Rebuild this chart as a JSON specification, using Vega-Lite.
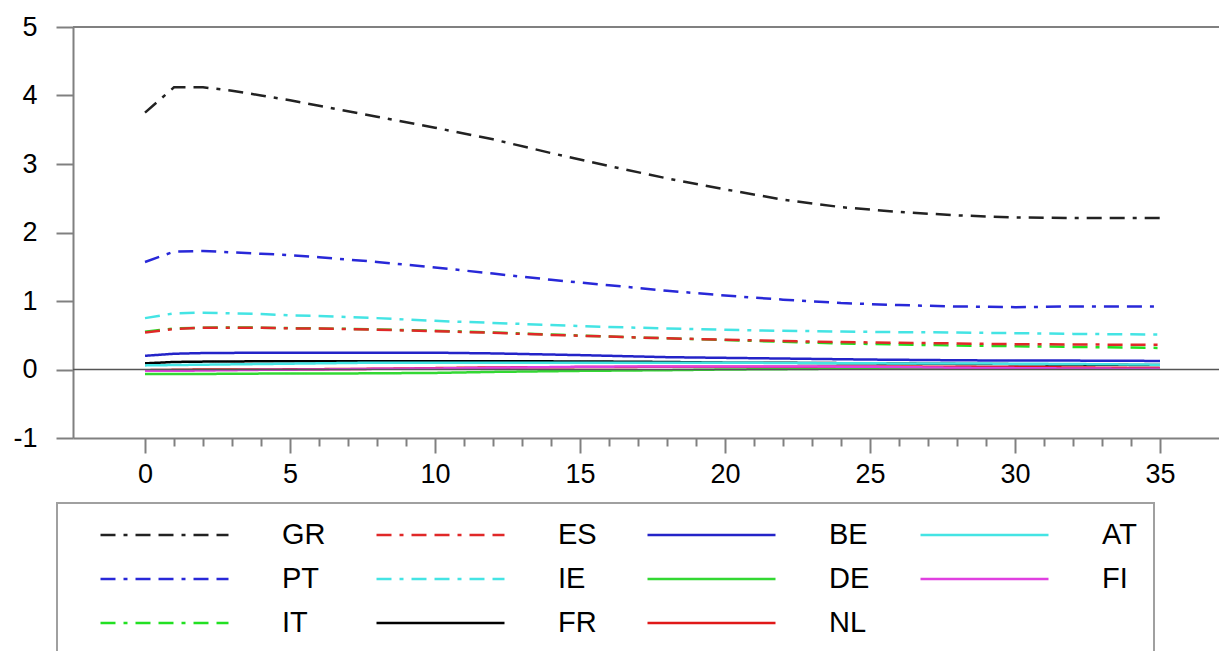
{
  "$schema": "https://vega.github.io/schema/vega-lite/v6.json",
  "width": 1146,
  "height": 411,
  "autosize": {"type": "none"},
  "padding": {"left": 73, "top": 27, "right": 0, "bottom": 213},
  "background": "white",
  "config": {"view": {"stroke": null}, "font": "Liberation Sans"},
  "data": {"values": [
    {"t":0,"c":"GR","v":3.75},{"t":1,"c":"GR","v":4.12},{"t":2,"c":"GR","v":4.12},{"t":3,"c":"GR","v":4.07},{"t":4,"c":"GR","v":4.00},{"t":5,"c":"GR","v":3.93},{"t":6,"c":"GR","v":3.85},{"t":8,"c":"GR","v":3.69},{"t":10,"c":"GR","v":3.53},{"t":12,"c":"GR","v":3.36},{"t":14,"c":"GR","v":3.16},{"t":16,"c":"GR","v":2.97},{"t":18,"c":"GR","v":2.79},{"t":20,"c":"GR","v":2.63},{"t":22,"c":"GR","v":2.48},{"t":24,"c":"GR","v":2.37},{"t":26,"c":"GR","v":2.30},{"t":28,"c":"GR","v":2.25},{"t":30,"c":"GR","v":2.22},{"t":32,"c":"GR","v":2.21},{"t":35,"c":"GR","v":2.21},
    {"t":0,"c":"PT","v":1.57},{"t":1,"c":"PT","v":1.72},{"t":2,"c":"PT","v":1.73},{"t":3,"c":"PT","v":1.71},{"t":4,"c":"PT","v":1.69},{"t":5,"c":"PT","v":1.67},{"t":6,"c":"PT","v":1.64},{"t":8,"c":"PT","v":1.57},{"t":10,"c":"PT","v":1.49},{"t":12,"c":"PT","v":1.40},{"t":14,"c":"PT","v":1.31},{"t":16,"c":"PT","v":1.23},{"t":18,"c":"PT","v":1.15},{"t":20,"c":"PT","v":1.08},{"t":22,"c":"PT","v":1.02},{"t":24,"c":"PT","v":0.97},{"t":26,"c":"PT","v":0.94},{"t":28,"c":"PT","v":0.92},{"t":30,"c":"PT","v":0.91},{"t":32,"c":"PT","v":0.92},{"t":35,"c":"PT","v":0.92},
    {"t":0,"c":"IT","v":0.55},{"t":1,"c":"IT","v":0.60},{"t":2,"c":"IT","v":0.61},{"t":3,"c":"IT","v":0.615},{"t":4,"c":"IT","v":0.61},{"t":5,"c":"IT","v":0.605},{"t":6,"c":"IT","v":0.60},{"t":8,"c":"IT","v":0.585},{"t":10,"c":"IT","v":0.565},{"t":12,"c":"IT","v":0.54},{"t":14,"c":"IT","v":0.51},{"t":16,"c":"IT","v":0.48},{"t":18,"c":"IT","v":0.455},{"t":20,"c":"IT","v":0.43},{"t":22,"c":"IT","v":0.405},{"t":24,"c":"IT","v":0.38},{"t":26,"c":"IT","v":0.365},{"t":28,"c":"IT","v":0.35},{"t":30,"c":"IT","v":0.34},{"t":32,"c":"IT","v":0.33},{"t":35,"c":"IT","v":0.315},
    {"t":0,"c":"ES","v":0.54},{"t":1,"c":"ES","v":0.59},{"t":2,"c":"ES","v":0.61},{"t":3,"c":"ES","v":0.61},{"t":4,"c":"ES","v":0.61},{"t":5,"c":"ES","v":0.60},{"t":6,"c":"ES","v":0.60},{"t":8,"c":"ES","v":0.58},{"t":10,"c":"ES","v":0.56},{"t":12,"c":"ES","v":0.535},{"t":14,"c":"ES","v":0.505},{"t":16,"c":"ES","v":0.48},{"t":18,"c":"ES","v":0.455},{"t":20,"c":"ES","v":0.435},{"t":22,"c":"ES","v":0.415},{"t":24,"c":"ES","v":0.40},{"t":26,"c":"ES","v":0.39},{"t":28,"c":"ES","v":0.38},{"t":30,"c":"ES","v":0.37},{"t":32,"c":"ES","v":0.365},{"t":35,"c":"ES","v":0.36},
    {"t":0,"c":"IE","v":0.75},{"t":1,"c":"IE","v":0.82},{"t":2,"c":"IE","v":0.83},{"t":3,"c":"IE","v":0.82},{"t":4,"c":"IE","v":0.81},{"t":5,"c":"IE","v":0.79},{"t":6,"c":"IE","v":0.78},{"t":8,"c":"IE","v":0.75},{"t":10,"c":"IE","v":0.71},{"t":12,"c":"IE","v":0.68},{"t":14,"c":"IE","v":0.65},{"t":16,"c":"IE","v":0.62},{"t":18,"c":"IE","v":0.60},{"t":20,"c":"IE","v":0.58},{"t":22,"c":"IE","v":0.565},{"t":24,"c":"IE","v":0.555},{"t":26,"c":"IE","v":0.545},{"t":28,"c":"IE","v":0.54},{"t":30,"c":"IE","v":0.53},{"t":32,"c":"IE","v":0.52},{"t":35,"c":"IE","v":0.51},
    {"t":0,"c":"FR","v":0.09},{"t":1,"c":"FR","v":0.11},{"t":2,"c":"FR","v":0.115},{"t":4,"c":"FR","v":0.12},{"t":6,"c":"FR","v":0.12},{"t":8,"c":"FR","v":0.12},{"t":10,"c":"FR","v":0.12},{"t":12,"c":"FR","v":0.12},{"t":15,"c":"FR","v":0.118},{"t":18,"c":"FR","v":0.11},{"t":20,"c":"FR","v":0.10},{"t":22,"c":"FR","v":0.098},{"t":25,"c":"FR","v":0.09},{"t":28,"c":"FR","v":0.082},{"t":30,"c":"FR","v":0.078},{"t":32,"c":"FR","v":0.072},{"t":35,"c":"FR","v":0.065},
    {"t":0,"c":"BE","v":0.20},{"t":1,"c":"BE","v":0.23},{"t":2,"c":"BE","v":0.24},{"t":4,"c":"BE","v":0.245},{"t":6,"c":"BE","v":0.245},{"t":8,"c":"BE","v":0.245},{"t":10,"c":"BE","v":0.245},{"t":12,"c":"BE","v":0.235},{"t":15,"c":"BE","v":0.21},{"t":18,"c":"BE","v":0.18},{"t":20,"c":"BE","v":0.17},{"t":22,"c":"BE","v":0.16},{"t":25,"c":"BE","v":0.145},{"t":28,"c":"BE","v":0.135},{"t":30,"c":"BE","v":0.13},{"t":32,"c":"BE","v":0.13},{"t":35,"c":"BE","v":0.125},
    {"t":0,"c":"DE","v":-0.065},{"t":1,"c":"DE","v":-0.065},{"t":2,"c":"DE","v":-0.065},{"t":4,"c":"DE","v":-0.06},{"t":6,"c":"DE","v":-0.06},{"t":8,"c":"DE","v":-0.055},{"t":10,"c":"DE","v":-0.05},{"t":12,"c":"DE","v":-0.035},{"t":15,"c":"DE","v":-0.02},{"t":18,"c":"DE","v":-0.01},{"t":20,"c":"DE","v":0.0},{"t":22,"c":"DE","v":0.005},{"t":25,"c":"DE","v":0.015},{"t":28,"c":"DE","v":0.015},{"t":30,"c":"DE","v":0.015},{"t":32,"c":"DE","v":0.012},{"t":35,"c":"DE","v":0.01},
    {"t":0,"c":"NL","v":-0.01},{"t":1,"c":"NL","v":-0.005},{"t":2,"c":"NL","v":0.0},{"t":4,"c":"NL","v":0.0},{"t":6,"c":"NL","v":0.005},{"t":8,"c":"NL","v":0.01},{"t":10,"c":"NL","v":0.02},{"t":12,"c":"NL","v":0.03},{"t":15,"c":"NL","v":0.035},{"t":18,"c":"NL","v":0.04},{"t":20,"c":"NL","v":0.04},{"t":22,"c":"NL","v":0.04},{"t":25,"c":"NL","v":0.045},{"t":28,"c":"NL","v":0.04},{"t":30,"c":"NL","v":0.035},{"t":32,"c":"NL","v":0.03},{"t":35,"c":"NL","v":0.02},
    {"t":0,"c":"AT","v":0.06},{"t":1,"c":"AT","v":0.065},{"t":2,"c":"AT","v":0.07},{"t":4,"c":"AT","v":0.08},{"t":6,"c":"AT","v":0.09},{"t":8,"c":"AT","v":0.10},{"t":10,"c":"AT","v":0.10},{"t":12,"c":"AT","v":0.10},{"t":15,"c":"AT","v":0.10},{"t":18,"c":"AT","v":0.10},{"t":20,"c":"AT","v":0.10},{"t":22,"c":"AT","v":0.095},{"t":25,"c":"AT","v":0.09},{"t":28,"c":"AT","v":0.087},{"t":30,"c":"AT","v":0.085},{"t":32,"c":"AT","v":0.08},{"t":35,"c":"AT","v":0.07},
    {"t":0,"c":"FI","v":-0.02},{"t":1,"c":"FI","v":-0.02},{"t":2,"c":"FI","v":-0.015},{"t":4,"c":"FI","v":-0.005},{"t":6,"c":"FI","v":0.0},{"t":8,"c":"FI","v":0.01},{"t":10,"c":"FI","v":0.015},{"t":12,"c":"FI","v":0.025},{"t":15,"c":"FI","v":0.04},{"t":18,"c":"FI","v":0.045},{"t":20,"c":"FI","v":0.045},{"t":22,"c":"FI","v":0.045},{"t":25,"c":"FI","v":0.04},{"t":28,"c":"FI","v":0.025},{"t":30,"c":"FI","v":0.02},{"t":32,"c":"FI","v":0.015},{"t":35,"c":"FI","v":0.01}
  ]},
  "layer": [
    {
      "mark": {"type": "line", "strokeWidth": 2.5, "clip": true},
      "encoding": {
        "x": {"field": "t", "type": "quantitative",
          "scale": {"domain": [-2.483, 37.034], "nice": false, "zero": false},
          "axis": {"title": null, "values": [0,1,2,3,4,5,6,7,8,9,10,11,12,13,14,15,16,17,18,19,20,21,22,23,24,25,26,27,28,29,30,31,32,33,34,35],
            "tickSize": {"condition": {"test": "datum.value % 5 === 0", "value": 15}, "value": 8},
            "labelExpr": "datum.value % 5 === 0 ? datum.label : ''",
            "labelFlush": false, "labelOverlap": false, "labelPadding": 8, "labelFontSize": 27, "labelFont": "Liberation Sans", "labelColor": "#000000",
            "domainColor": "#808080", "domainWidth": 2, "tickColor": "#808080", "tickWidth": 2, "grid": false}},
        "y": {"field": "v", "type": "quantitative",
          "scale": {"domain": [-1, 5], "nice": false, "zero": false},
          "axis": {"title": null, "values": [-1,0,1,2,3,4,5], "labelExpr": "datum.value + ''", "tickSize": 17, "labelPadding": 19, "labelFontSize": 27, "labelFont": "Liberation Sans", "labelColor": "#000000",
            "domainColor": "#808080", "domainWidth": 2, "tickColor": "#808080", "tickWidth": 2, "grid": false}},
        "color": {"field": "c", "type": "nominal",
          "scale": {"domain": ["GR","PT","IT","ES","IE","FR","BE","DE","NL","AT","FI"],
                    "range": ["#222222","#2828d8","#22e022","#e02828","#44e4e4","#000000","#2424c8","#33d833","#e01818","#44e4e4","#e040e0"]},
          "legend": {"title": " ", "titleOrient": "left", "titleFontSize": 10, "titlePadding": 25, "orient": "none", "legendX": -16, "legendY": 476,
            "columns": 4, "symbolType": "stroke", "symbolSize": 16384, "symbolStrokeWidth": 2.5, "clipHeight": 30,
            "labelOffset": 52, "columnPadding": 49, "rowPadding": 14, "labelFontSize": 29, "labelFont": "Liberation Sans", "labelColor": "#000000",
            "padding": 17, "strokeColor": "#a0a0a0",
            "encode": {"legend": {"update": {"strokeWidth": {"value": 2}}}}}},
        "strokeDash": {"field": "c", "type": "nominal",
          "scale": {"domain": ["GR","PT","IT","ES","IE","FR","BE","DE","NL","AT","FI"],
                    "range": [[15,8,4,8,15,8],[15,8,4,8,15,8],[15,8,4,8,15,8],[15,8,4,8,15,8],[15,8,4,8,15,8],[1,0],[1,0],[1,0],[1,0],[1,0],[1,0]]},
          "legend": {"title": " "}}
      }
    },
    {
      "data": {"values": [{"r": 5}]},
      "mark": {"type": "rule", "color": "#808080", "strokeWidth": 2},
      "encoding": {"y": {"field": "r", "type": "quantitative"}}
    },
    {
      "data": {"values": [{"r": 0}]},
      "mark": {"type": "rule", "color": "#555555", "strokeWidth": 1.5},
      "encoding": {"y": {"field": "r", "type": "quantitative"}}
    }
  ]
}
